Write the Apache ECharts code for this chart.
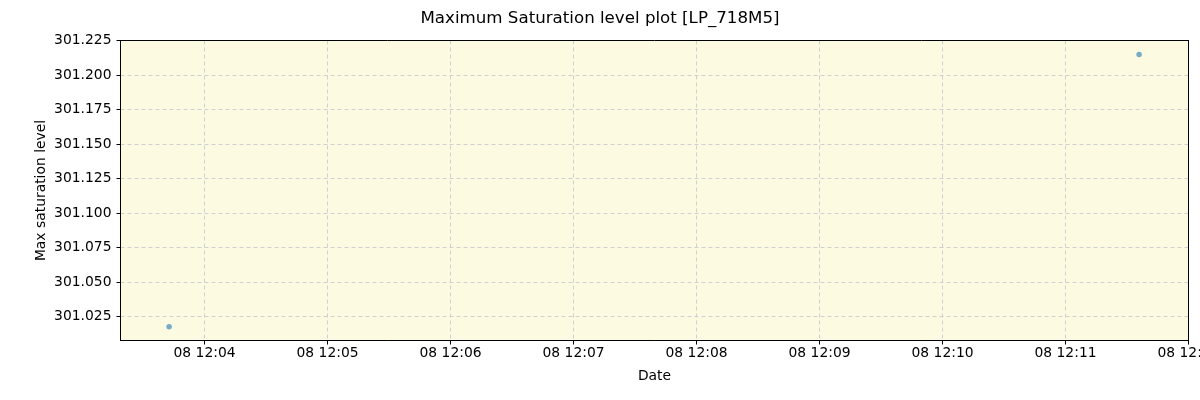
<!DOCTYPE html>
<html>
<head>
<meta charset="utf-8">
<script src="https://cdn.jsdelivr.net/npm/echarts@6/dist/echarts.min.js"></script>
<style>html,body{margin:0;padding:0;background:#fff}#c{width:1200px;height:400px}</style>
</head>
<body>
<div id="c"></div>
<script>
// Data
const times = ['2024-01-08T12:03:42.7Z', '2024-01-08T12:11:35.9Z'];
const values = [301.0175, 301.2148];
const xTickLabels = ['2024-01-08T12:04:00Z','2024-01-08T12:05:00Z','2024-01-08T12:06:00Z','2024-01-08T12:07:00Z','2024-01-08T12:08:00Z','2024-01-08T12:09:00Z','2024-01-08T12:10:00Z','2024-01-08T12:11:00Z','2024-01-08T12:12:00Z'];
const yTickLabels = [301.025, 301.050, 301.075, 301.100, 301.125, 301.150, 301.175, 301.200, 301.225];
const xMin = '2024-01-08T12:03:19.0Z';
const xMax = '2024-01-08T12:12:00.0Z';
const yMin = 301.0076;
const yMax = 301.225;

const xTicks = xTickLabels.map(s => Date.parse(s));
const pad = n => String(n).padStart(2, '0');
const fmt = v => { const d = new Date(v); return pad(d.getUTCDate()) + ' ' + pad(d.getUTCHours()) + ':' + pad(d.getUTCMinutes()); };

const chart = echarts.init(document.getElementById('c'), null, {renderer: 'canvas'});
const font = 'DejaVu Sans';
const frame = {show: true, onZero: false, lineStyle: {color: '#000', width: 1}};
chart.setOption({
  animation: false,
  backgroundColor: '#ffffff',
  title: {
    text: 'Maximum Saturation level plot [LP_718M5]',
    left: 'center', top: 5,
    textStyle: {fontFamily: font, fontSize: 16.67, fontWeight: 'normal', color: '#000'}
  },
  grid: {left: 120.5, right: 11.5, top: 40.5, bottom: 59.5, outerBoundsMode: 'none', containLabel: false, show: true, backgroundColor: '#fcfae1', borderColor: '#000', borderWidth: 1},
  xAxis: [{
    type: 'value',
    min: Date.parse(xMin), max: Date.parse(xMax),
    name: 'Date', nameLocation: 'middle', nameGap: 29, nameMoveOverlap: false,
    nameTextStyle: {fontFamily: font, fontSize: 13.89, color: '#000'},
    axisLine: frame,
    axisTick: {show: true, length: 4, lineStyle: {color: '#000'}, customValues: xTicks},
    axisLabel: {customValues: xTicks, formatter: fmt, fontFamily: font, fontSize: 13.89, color: '#000', margin: 6, hideOverlap: false, showMaxLabel: true, showMinLabel: true},
    splitLine: {show: true, lineStyle: {color: '#d0d0d0', type: [4, 3], width: 1}}
  }, {
    type: 'value', position: 'top',
    min: Date.parse(xMin), max: Date.parse(xMax),
    axisLine: frame, axisTick: {show: false}, axisLabel: {show: false}, splitLine: {show: false}
  }],
  yAxis: [{
    type: 'value',
    min: yMin, max: yMax,
    name: 'Max saturation level', nameLocation: 'middle', nameGap: 72, nameMoveOverlap: false,
    nameTextStyle: {fontFamily: font, fontSize: 13.89, color: '#000'},
    axisLine: frame,
    axisTick: {show: true, length: 4, lineStyle: {color: '#000'}, customValues: yTickLabels},
    axisLabel: {customValues: yTickLabels, formatter: v => v.toFixed(3), fontFamily: font, fontSize: 13.89, color: '#000', margin: 9, showMaxLabel: true},
    splitLine: {show: true, lineStyle: {color: '#d0d0d0', type: [4, 3], width: 1}}
  }, {
    type: 'value', position: 'right',
    min: yMin, max: yMax,
    axisLine: frame, axisTick: {show: false}, axisLabel: {show: false}, splitLine: {show: false}
  }],
  series: [{
    type: 'scatter',
    data: times.map((t, i) => [Date.parse(t), values[i]]),
    symbolSize: 5.5,
    itemStyle: {color: '#1f77b4', opacity: 0.6},
    clip: false
  }]
});
</script>
</body>
</html>
